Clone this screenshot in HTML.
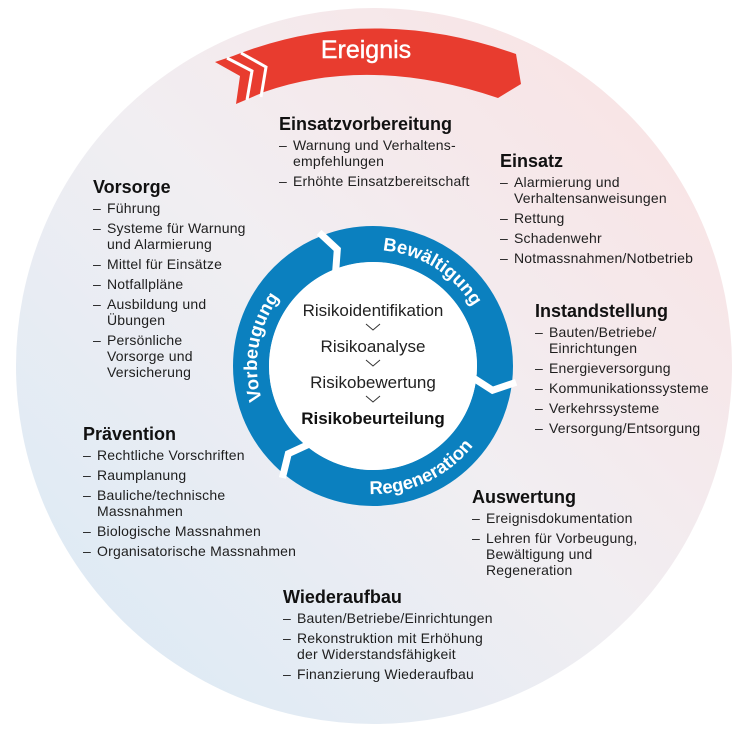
<!DOCTYPE html>
<html><head><meta charset="utf-8"><style>
body{margin:0;background:#fff;}
#w{position:relative;width:748px;height:732px;overflow:hidden;font-family:"Liberation Sans",sans-serif;color:#1e1e1e;}
.s{position:absolute;font-size:14px;line-height:16px;letter-spacing:0.2px;}
.s h{display:block;font-weight:bold;font-size:18px;line-height:20px;margin-bottom:3px;color:#111;letter-spacing:0;}
.s i{display:block;font-style:normal;padding-left:14px;position:relative;margin-bottom:4px;}
.s i:before{content:"–";position:absolute;left:0;}
</style></head><body><div id="w">
<svg width="748" height="732" style="position:absolute;left:0;top:0">
<defs>
<linearGradient id="bg" x1="1" y1="0" x2="0" y2="1">
<stop offset="0" stop-color="#fbe1e1"/><stop offset="0.5" stop-color="#f1eef2"/><stop offset="1" stop-color="#d8e9f5"/>
</linearGradient>
<path id="pb" d="M 352.9 251.8 A 116 116 0 0 1 484.5 334"/>
<path id="pr" d="M 329.2 486.3 A 128 128 0 0 0 493.3 409.8"/>
<path id="pv" d="M 284.1 440.6 A 116 116 0 0 1 284.1 291.4"/>
</defs>
<circle cx="374" cy="366" r="358" fill="url(#bg)"/>
<path d="M 215 62 L 233 56 Q 370 2 516 54 L 521 84 L 498 98 Q 370 55 264 92 L 236 104 L 240 76 Z" fill="#e83c2f"/>
<polyline points="227,58 252,71 247,100" fill="none" stroke="#fff" stroke-width="3"/>
<polyline points="241,53 266,67 261,97" fill="none" stroke="#fff" stroke-width="3"/>
<text x="366" y="58" text-anchor="middle" fill="#fff" font-size="25" font-family="Liberation Sans" stroke="#fff" stroke-width="0.4">Ereignis</text>
<circle cx="373" cy="366" r="122" fill="none" stroke="#0b80bf" stroke-width="36"/>
<circle cx="373" cy="366" r="104" fill="#fff"/>
<g fill="none" stroke="#fff" stroke-width="7">
<polyline transform="translate(373 366) rotate(6.5)" points="100,0 121.5,10.6 144,0"/>
<polyline transform="translate(373 366) rotate(129)" points="100,0 121.5,10.6 144,0"/>
<polyline transform="translate(373 366) rotate(-112)" points="100,0 121.5,10.6 144,0"/>
</g>
<g font-size="18.5" font-weight="bold" fill="#fff" font-family="Liberation Sans">
<text><textPath href="#pb" startOffset="50%" text-anchor="middle">Bewältigung</textPath></text>
<text><textPath href="#pr" startOffset="50%" text-anchor="middle">Regeneration</textPath></text>
<text><textPath href="#pv" startOffset="62%" text-anchor="middle">Vorbeugung</textPath></text>
</g>
<g font-family="Liberation Sans" font-size="17" fill="#222" text-anchor="middle">
<text x="373" y="316">Risikoidentifikation</text>
<text x="373" y="352">Risikoanalyse</text>
<text x="373" y="388">Risikobewertung</text>
<text x="373" y="424" font-weight="bold" fill="#111">Risikobeurteilung</text>
</g>
<g fill="none" stroke="#333" stroke-width="1">
<polyline points="366,324 373,330 380,324"/>
<polyline points="366,360 373,366 380,360"/>
<polyline points="366,396 373,402 380,396"/>
</g>
</svg>
<div class="s" style="left:279px;top:114px"><h>Einsatzvorbereitung</h><i>Warnung und Verhaltens-<br>empfehlungen</i><i>Erhöhte Einsatzbereitschaft</i></div>
<div class="s" style="left:93px;top:177px"><h>Vorsorge</h><i>Führung</i><i>Systeme für Warnung<br>und Alarmierung</i><i>Mittel für Einsätze</i><i>Notfallpläne</i><i>Ausbildung und<br>Übungen</i><i>Persönliche<br>Vorsorge und<br>Versicherung</i></div>
<div class="s" style="left:500px;top:151px"><h>Einsatz</h><i>Alarmierung und<br>Verhaltensanweisungen</i><i>Rettung</i><i>Schadenwehr</i><i>Notmassnahmen/Notbetrieb</i></div>
<div class="s" style="left:535px;top:301px"><h>Instandstellung</h><i>Bauten/Betriebe/<br>Einrichtungen</i><i>Energieversorgung</i><i>Kommunikationssysteme</i><i>Verkehrssysteme</i><i>Versorgung/Entsorgung</i></div>
<div class="s" style="left:83px;top:424px"><h>Prävention</h><i>Rechtliche Vorschriften</i><i>Raumplanung</i><i>Bauliche/technische<br>Massnahmen</i><i>Biologische Massnahmen</i><i>Organisatorische Massnahmen</i></div>
<div class="s" style="left:472px;top:487px"><h>Auswertung</h><i>Ereignisdokumentation</i><i>Lehren für Vorbeugung,<br>Bewältigung und<br>Regeneration</i></div>
<div class="s" style="left:283px;top:587px"><h>Wiederaufbau</h><i>Bauten/Betriebe/Einrichtungen</i><i>Rekonstruktion mit Erhöhung<br>der Widerstandsfähigkeit</i><i>Finanzierung Wiederaufbau</i></div>
</div></body></html>
